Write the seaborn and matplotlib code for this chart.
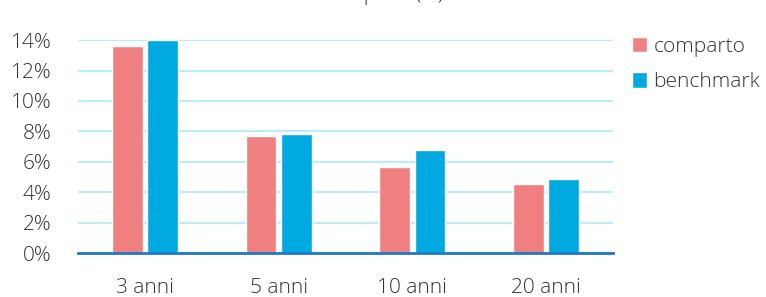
import pandas as pd
import seaborn as sns
from matplotlib import pyplot as plt
from matplotlib.ticker import FuncFormatter

periods = ["3 anni", "5 anni", "10 anni", "20 anni"]
comparto = [13.6, 7.7, 5.65, 4.55]
benchmark = [14.0, 7.8, 6.75, 4.9]
series = ["comparto", "benchmark"]
colors = ["#F08080", "#00A9E0"]

df = pd.DataFrame({
    "periodo": periods * 2,
    "serie": [series[0]] * len(periods) + [series[1]] * len(periods),
    "valore": comparto + benchmark,
})

sns.set_theme(style="white")
plt.rcParams["font.family"] = ["Open Sans", "DejaVu Sans"]
plt.rcParams["font.weight"] = "light"

fig = plt.figure(figsize=(7.66, 2.97), dpi=100)
ax = fig.add_axes([0.102, 0.148, 0.698, 0.717])

sns.barplot(data=df, x="periodo", y="valore", hue="serie", palette=colors,
            width=0.53, gap=0.13, ax=ax, saturation=1, errorbar=None)

ax.set_ylim(0, 14)
ax.set_yticks(range(0, 15, 2))
ax.yaxis.set_major_formatter(FuncFormatter(lambda v, p: f"{v:.0f}%"))
ax.grid(axis="y", color="#BDEBF8", linewidth=1.5, zorder=0)
ax.set_axisbelow(True)
for s in ["top", "right", "left"]:
    ax.spines[s].set_visible(False)
ax.spines["bottom"].set_color("#1F78C1")
ax.spines["bottom"].set_linewidth(2)
ax.tick_params(axis="both", length=0, labelsize=15, labelcolor="#333333")
ax.tick_params(axis="y", pad=19)
ax.tick_params(axis="x", pad=18)
ax.set_xlabel("")
ax.set_ylabel("")

handles, labels = ax.get_legend_handles_labels()
ax.legend(handles, labels, loc="upper left", bbox_to_anchor=(0.8, 0.94),
          bbox_transform=fig.transFigure, frameon=False, fontsize=15,
          handlelength=0.75, handleheight=0.75, handletextpad=0.3,
          labelspacing=0.75, labelcolor="#333333")

fig.text(0.5, 1.0, "composti (%)", ha="center", va="baseline",
         fontsize=15, color="#333333")

fig.savefig("out.png", dpi=100)
